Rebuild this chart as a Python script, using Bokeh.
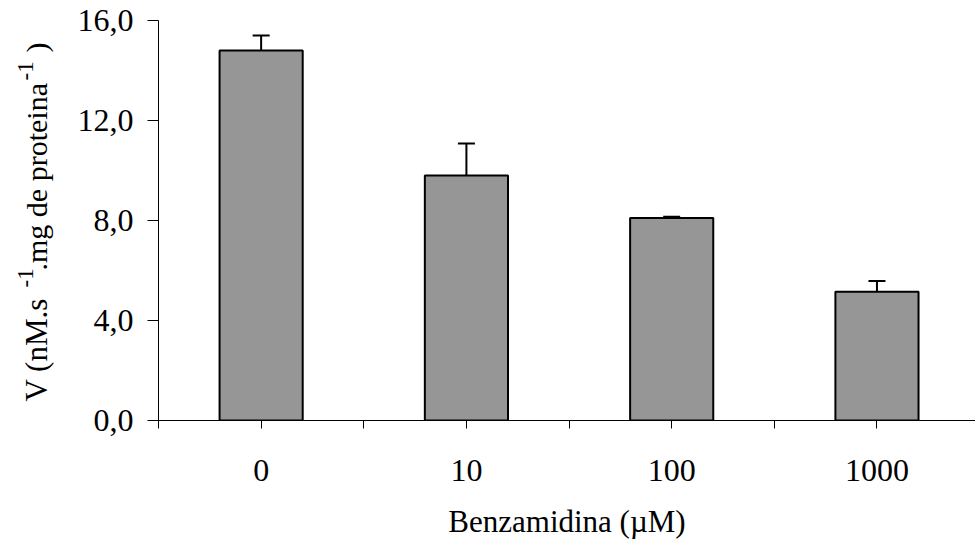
import math
from bokeh.plotting import figure
from bokeh.layouts import row
from bokeh.models import Range1d, FixedTicker, Whisker, TeeHead, ColumnDataSource
from bokeh.core.properties import value
from bokeh.embed import file_html
from bokeh.resources import INLINE

categories = ["0", "10", "100", "1000"]
values = [14.8, 9.8, 8.1, 5.15]
errors = [0.6, 1.28, 0.05, 0.43]
y_ticks = [0, 4, 8, 12, 16]
y_tick_labels = ["0,0", "4,0", "8,0", "12,0", "16,0"]
x_title = "Benzamidina (\u00b5M)"
y_title_texts = ["V (nM.s", "-1", ".mg de proteina", "-1", ")"]
y_title_is_sup = [False, True, False, True, False]
y_title_sizes = [31, 23, 30, 23, 30]

FONT = "Liberation Serif"

LEFT_W = 60
W, H = 975, 545
TOP, BOTTOM = 20, 125
FRAME_BOTTOM = H - BOTTOM

# ---- y title panel (left strip); its frame is aligned with the main frame ----
lf = figure(width=LEFT_W, height=H, output_backend="svg", toolbar_location=None,
            x_range=Range1d(0, LEFT_W), y_range=Range1d(0, H - TOP - BOTTOM),
            x_axis_type=None, y_axis_type=None,
            min_border_left=0, min_border_right=0,
            min_border_top=TOP, min_border_bottom=BOTTOM)
lf.outline_line_color = None
lf.xgrid.visible = False
lf.ygrid.visible = False
lf.background_fill_color = "white"
lf.border_fill_color = "white"

# start (canvas px from top) of each piece along the rotated line, and anchor column
starts_px = [401, 287, 270, 80, 52]
for txt, sup, size, st in zip(y_title_texts, y_title_is_sup, y_title_sizes, starts_px):
    lf.text(x=[25 if sup else 36], y=[FRAME_BOTTOM - st], text=[txt], angle=math.pi / 2,
            text_font=value(FONT), text_font_size=f"{size}px",
            text_color="black", text_align="left", text_baseline="alphabetic")

# ---- main chart ----
xs = list(range(len(categories)))
src = ColumnDataSource(dict(x=xs, top=values, upper=[v + e for v, e in zip(values, errors)]))

p = figure(width=W - LEFT_W, height=H, output_backend="svg", toolbar_location=None,
           x_range=Range1d(-0.5, 3.48), y_range=Range1d(0, 16),
           min_border_left=158 - LEFT_W, min_border_right=0,
           min_border_top=TOP, min_border_bottom=BOTTOM)
p.outline_line_color = None
p.xgrid.visible = False
p.ygrid.visible = False
p.background_fill_color = "white"
p.border_fill_color = "white"

p.vbar(x="x", top="top", bottom=0, width=0.405, source=src,
       fill_color="#969696", line_color="black", line_width=2)

w = Whisker(base="x", lower="top", upper="upper", source=src,
            line_color="black", line_width=2,
            upper_head=TeeHead(size=17, line_color="black", line_width=2),
            lower_head=None)
p.add_layout(w)

ya = p.yaxis[0]
ya.ticker = FixedTicker(ticks=y_ticks, minor_ticks=[])
ya.major_label_overrides = {t: l for t, l in zip(y_ticks, y_tick_labels)}
ya.major_tick_out = 11
ya.major_tick_in = 0
ya.minor_tick_out = 0
ya.minor_tick_in = 0
ya.major_label_standoff = 14
ya.axis_line_color = "black"
ya.major_tick_line_color = "black"
ya.major_label_text_font = FONT
ya.major_label_text_font_size = "32px"
ya.major_label_text_color = "black"

xa = p.xaxis[0]
xa.ticker = FixedTicker(ticks=xs, minor_ticks=[-0.5, 0.5, 1.5, 2.5, 3.5])
xa.major_label_overrides = {i: c for i, c in zip(xs, categories)}
xa.major_tick_out = 8
xa.major_tick_in = 0
xa.minor_tick_out = 8
xa.minor_tick_in = 0
xa.minor_tick_line_color = "black"
xa.major_tick_line_color = "black"
xa.axis_line_color = "black"
xa.major_label_standoff = 31
xa.major_label_text_font = FONT
xa.major_label_text_font_size = "32px"
xa.major_label_text_color = "black"
xa.axis_label = x_title
xa.axis_label_text_font = FONT
xa.axis_label_text_font_size = "31px"
xa.axis_label_text_font_style = "normal"
xa.axis_label_text_color = "black"
xa.axis_label_standoff = 20

layout = row(lf, p, spacing=0)
open("out.html", "w").write(file_html(layout, INLINE))
